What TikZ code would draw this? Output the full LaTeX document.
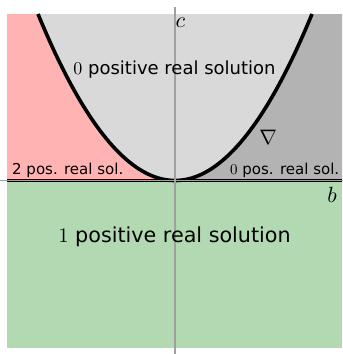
\documentclass[tikz,border=0pt]{standalone}
\usepackage{graphicx}
\usepackage{fontspec}
\setmainfont{DejaVu Sans}
\newcommand{\mscaled}[2]{\scalebox{#1}{\fontsize{10}{12}\selectfont$#2$}}
\definecolor{pinkreg}{HTML}{FFB3B3}
\definecolor{lightreg}{HTML}{D9D9D9}
\definecolor{darkreg}{HTML}{B3B3B3}
\definecolor{greenreg}{HTML}{B3D9B3}
\definecolor{axisgray}{HTML}{A0A0A0}
\tikzset{
  boundary/.style={line width=3.6pt, black},
  axisline/.style={line width=1.4pt, axisgray},
  bigtext/.style={font=\fontsize{18}{20}\selectfont, inner sep=0pt, anchor=base},
  hugetext/.style={font=\fontsize{20.7}{22}\selectfont, inner sep=0pt, anchor=base},
  smalltext/.style={font=\fontsize{15}{17}\selectfont, inner sep=0pt, anchor=base west},
  axlabel/.style={inner sep=0pt, anchor=base}
}
\begin{document}
\begin{tikzpicture}[x=1pt,y=-1pt]
\useasboundingbox (0,0) rectangle (343,354);
\fill[white] (0,0) rectangle (343,354);
% regions
\fill[lightreg] (7,14) rectangle (342,180.5);
\fill[greenreg] (7,180.5) rectangle (342,348);
\fill[pinkreg] (7,14) -- plot[domain=-137:0, samples=80] ({175+\x},{180.5-166.5*(\x/137)^2}) -- (7,180.5) -- cycle;
\fill[darkreg] (342,14) -- plot[domain=137:0, samples=80] ({175+\x},{180.5-166.5*(\x/137)^2}) -- (342,180.5) -- cycle;
% boundaries
\draw[boundary] plot[domain=-137:137, samples=150] ({175+\x},{180.5-166.5*(\x/137)^2});
\draw[boundary] (7,180.5) -- (342,180.5);
% axes
\coordinate (bl) at (0,180.5);
\coordinate (br) at (343,180.5);
\coordinate (ct) at (175,7);
\coordinate (cb) at (175,354);
\draw[axisline] (bl) -- (br);
\draw[axisline] (ct) -- (cb);
% labels
\node[bigtext] (zero) at (174.5,74) {\mscaled{1.8}{0} positive real solution};
\node[hugetext] (one) at (174.5,242.5) {\mscaled{2.07}{1} positive real solution};
\node[smalltext] (two) at (12,174) {2 pos. real sol.};
\node[smalltext] (zerosm) at (230,174) {\mscaled{1.5}{0} pos. real sol.};
\node[inner sep=0pt] (nabla) at (268,137) {\mscaled{2.1}{\nabla}};
\node[axlabel] (clab) at (180.5,27) {\mscaled{2.2}{c}};
\node[axlabel] (blab) at (332,202) {\mscaled{2.2}{b}};
\end{tikzpicture}
\end{document}
